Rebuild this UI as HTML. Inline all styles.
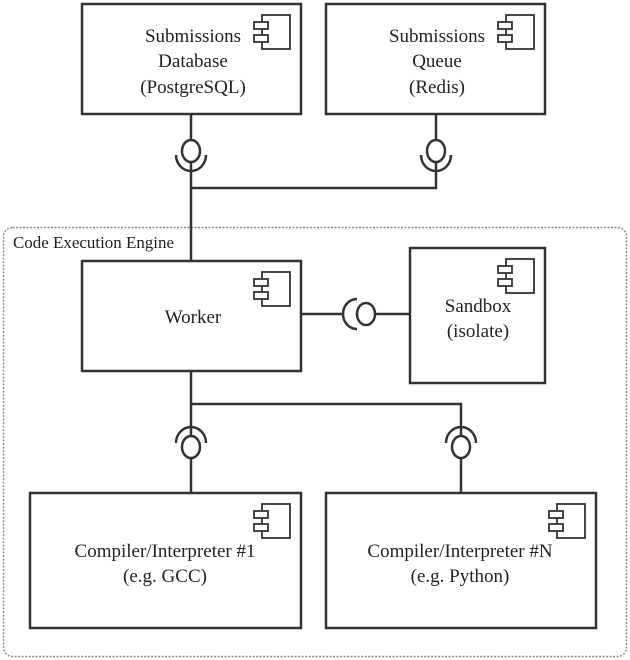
<!DOCTYPE html>
<html><head><meta charset="utf-8"><style>html,body{margin:0;padding:0;background:#fff}svg{display:block}</style></head><body>
<svg width="630" height="660" viewBox="0 0 630 660" xmlns="http://www.w3.org/2000/svg" font-family="Liberation Serif, serif" font-size="19" fill="#222">
<defs>
<g id="ic" fill="#fff" stroke="#333" stroke-width="1.8">
<rect x="8" y="0" width="28" height="34"/>
<rect x="0" y="7" width="14" height="7"/>
<rect x="0" y="20" width="14" height="7"/>
</g>
</defs>
<rect x="3.5" y="227.5" width="623" height="429" rx="9" fill="none" stroke="#888" stroke-width="1.4" stroke-dasharray="2,1.5"/>
<text x="13" y="248" font-size="17" textLength="161" lengthAdjust="spacingAndGlyphs">Code Execution Engine</text>
<g fill="#fff" stroke="#333" stroke-width="2.5">
<rect x="82" y="4" width="219" height="110"/>
<rect x="326" y="4" width="219" height="110"/>
<rect x="82" y="261" width="219" height="110"/>
<rect x="410" y="248" width="135" height="135"/>
<rect x="30" y="493" width="271" height="135"/>
<rect x="326" y="493" width="270" height="135"/>
</g>
<use href="#ic" x="254" y="15"/>
<use href="#ic" x="498" y="15"/>
<use href="#ic" x="254" y="272"/>
<use href="#ic" x="498" y="259"/>
<use href="#ic" x="254" y="504"/>
<use href="#ic" x="549" y="504"/>
<g fill="none" stroke="#333" stroke-width="2.5">
<path d="M191 114V140M191 162V261M191 188H436V162M436 114V140"/>
<ellipse cx="191" cy="151" rx="9" ry="11"/><ellipse cx="436" cy="151" rx="9" ry="11"/>
<path d="M176 155A15 16 0 0 0 206 155"/><path d="M421 155A15 16 0 0 0 451 155"/>
<path d="M301 314H343M376 314H410"/>
<ellipse cx="366" cy="314" rx="9" ry="11"/>
<path d="M357 299A14 15 0 0 0 357 329"/>
<path d="M191 371V436M191 458V493M191 404H461V436M461 458V493"/>
<ellipse cx="191" cy="447" rx="9" ry="11"/><ellipse cx="461" cy="447" rx="9" ry="11"/>
<path d="M176 443A15 16 0 0 1 206 443"/><path d="M446 443A15 16 0 0 1 476 443"/>
</g>
<g text-anchor="middle">
<text x="193" y="42">Submissions</text><text x="193" y="67">Database</text><text x="193" y="93">(PostgreSQL)</text>
<text x="437" y="42">Submissions</text><text x="437" y="67">Queue</text><text x="437" y="93">(Redis)</text>
<text x="193" y="323">Worker</text>
<text x="478" y="312">Sandbox</text><text x="478" y="337">(isolate)</text>
<text x="165" y="557">Compiler/Interpreter #1</text><text x="165" y="582">(e.g. GCC)</text>
<text x="460" y="557">Compiler/Interpreter #N</text><text x="460" y="582">(e.g. Python)</text>
</g>
</svg>
</body></html>
